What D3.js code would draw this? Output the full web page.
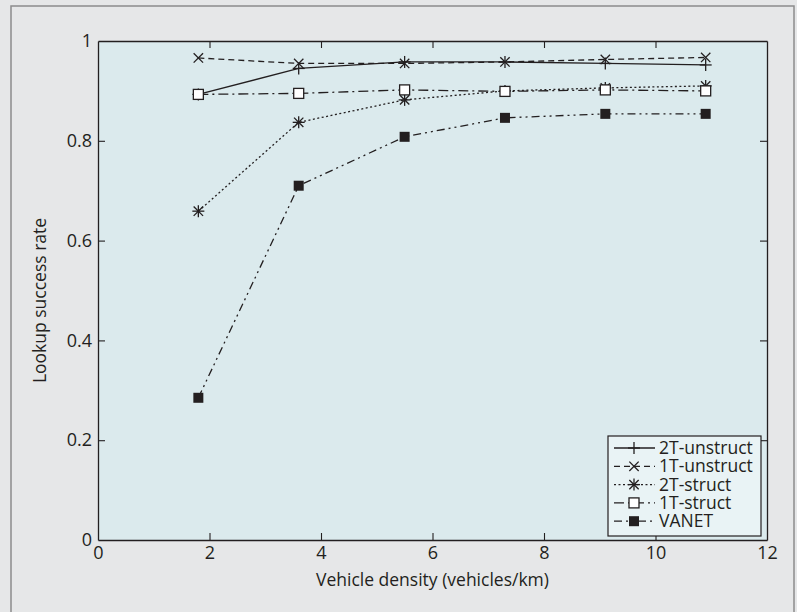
<!DOCTYPE html>
<html>
<head>
<meta charset="utf-8">
<script src="https://cdn.jsdelivr.net/npm/d3@7"></script>
<style>
html,body{margin:0;padding:0;background:#e6e7e8;}
svg{display:block;}
</style>
</head>
<body>
<svg id="chart" width="797" height="612"></svg>
<script>
const xValues = [1.8, 3.6, 5.5, 7.3, 9.1, 10.9];
const seriesNames = ["2T-unstruct", "1T-unstruct", "2T-struct", "1T-struct", "VANET"];
const s2TUnstruct = [0.893, 0.945, 0.958, 0.958, 0.955, 0.952];
const s1TUnstruct = [0.966, 0.955, 0.955, 0.958, 0.963, 0.967];
const s2TStruct   = [0.659, 0.837, 0.882, 0.900, 0.906, 0.910];
const s1TStruct   = [0.893, 0.895, 0.902, 0.899, 0.902, 0.900];
const sVANET      = [0.285, 0.710, 0.808, 0.846, 0.854, 0.854];
const xTicks = [0, 2, 4, 6, 8, 10, 12];
const yTicks = [0, 0.2, 0.4, 0.6, 0.8, 1];
const xLabel = "Vehicle density (vehicles/km)";
const yLabel = "Lookup success rate";

const ink = "#231f20";
const svg = d3.select("#chart");
const W = 797, H = 612;
const m = {left: 98, top: 41, right: 767, bottom: 540};

// outer frame
svg.append("rect").attr("x", 0).attr("y", 0).attr("width", W).attr("height", H).attr("fill", "#e6e7e8");
svg.append("rect").attr("x", 11).attr("y", 6).attr("width", 783).attr("height", 620)
  .attr("fill", "none").attr("stroke", "#8c8c8c").attr("stroke-width", 1.5);

const x = d3.scaleLinear().domain([0, 12]).range([m.left, m.right]);
const y = d3.scaleLinear().domain([0, 1]).range([m.bottom, m.top]);

svg.append("rect").attr("x", m.left).attr("y", m.top)
  .attr("width", m.right - m.left).attr("height", m.bottom - m.top)
  .attr("fill", "#dbeaed");

const fmt = d => d3.format("~g")(d);
const fontFam = "'Open Sans', 'Noto Sans', sans-serif";

function styleAxis(g, labels) {
  g.select(".domain").attr("stroke", ink).attr("stroke-width", 1.3);
  g.selectAll(".tick line").attr("stroke", ink).attr("stroke-width", 1.1);
  g.selectAll(".tick text").attr("fill", ink).style("font-family", fontFam).style("font-size", "18px");
  if (!labels) g.selectAll(".tick text").remove();
}

const gx = svg.append("g").attr("transform", `translate(0,${m.bottom})`)
  .call(d3.axisBottom(x).tickValues(xTicks).tickFormat(fmt).tickSizeInner(-7).tickSizeOuter(0).tickPadding(6));
styleAxis(gx, true);
const gxt = svg.append("g").attr("transform", `translate(0,${m.top})`)
  .call(d3.axisTop(x).tickValues(xTicks).tickSizeInner(-7).tickSizeOuter(0));
styleAxis(gxt, false);
const gy = svg.append("g").attr("transform", `translate(${m.left},0)`)
  .call(d3.axisLeft(y).tickValues(yTicks).tickFormat(fmt).tickSizeInner(-7).tickSizeOuter(0).tickPadding(6));
styleAxis(gy, true);
const gyr = svg.append("g").attr("transform", `translate(${m.right},0)`)
  .call(d3.axisRight(y).tickValues(yTicks).tickSizeInner(-7).tickSizeOuter(0));
styleAxis(gyr, false);
// remove ticks that coincide with plot corners
[gx, gxt].forEach(g => g.selectAll(".tick").filter(d => d === 0 || d === 12).select("line").remove());
[gy, gyr].forEach(g => g.selectAll(".tick").filter(d => d === 0 || d === 1).select("line").remove());

svg.append("text").attr("x", (m.left + m.right) / 2).attr("y", 586)
  .attr("text-anchor", "middle").attr("fill", ink)
  .style("font-family", fontFam).style("font-size", "17.5px").text(xLabel);
svg.append("text").attr("transform", `translate(46,${(m.top + m.bottom) / 2 + 10}) rotate(-90)`)
  .attr("text-anchor", "middle").attr("fill", ink)
  .style("font-family", fontFam).style("font-size", "17.5px").text(yLabel);

const series = [
  {name: seriesNames[0], values: s2TUnstruct, dash: null, marker: "plus"},
  {name: seriesNames[1], values: s1TUnstruct, dash: "6,4", marker: "cross"},
  {name: seriesNames[2], values: s2TStruct, dash: "2,2.5", marker: "star"},
  {name: seriesNames[3], values: s1TStruct, dash: "10,4,2,4", marker: "square"},
  {name: seriesNames[4], values: sVANET, dash: "8,4,2,4,2,4", marker: "fsquare"}
];

function drawMarker(g, type, cx, cy) {
  const s = 6;
  const a = g.append("g").attr("transform", `translate(${cx},${cy})`)
    .attr("stroke", ink).attr("stroke-width", 1.3).attr("fill", "none");
  if (type === "plus" || type === "star") {
    a.append("line").attr("x1", -s).attr("x2", s).attr("y1", 0).attr("y2", 0);
    a.append("line").attr("x1", 0).attr("x2", 0).attr("y1", -s).attr("y2", s);
  }
  if (type === "cross" || type === "star") {
    const k = s * 0.78;
    a.append("line").attr("x1", -k).attr("x2", k).attr("y1", -k).attr("y2", k);
    a.append("line").attr("x1", -k).attr("x2", k).attr("y1", k).attr("y2", -k);
  }
  if (type === "square") {
    a.append("rect").attr("x", -5).attr("y", -5).attr("width", 10).attr("height", 10).attr("fill", "#ffffff");
  }
  if (type === "fsquare") {
    a.append("rect").attr("x", -5).attr("y", -5).attr("width", 10).attr("height", 10).attr("fill", ink).attr("stroke", "none");
  }
}

const line = d3.line().x((d, i) => x(xValues[i])).y(d => y(d));
series.forEach(s => {
  svg.append("path").datum(s.values).attr("d", line)
    .attr("fill", "none").attr("stroke", ink).attr("stroke-width", 1.3)
    .attr("stroke-dasharray", s.dash);
});
series.forEach(s => {
  const g = svg.append("g");
  s.values.forEach((v, i) => drawMarker(g, s.marker, x(xValues[i]), y(v)));
});

// legend
const lg = svg.append("g");
lg.append("rect").attr("x", 608).attr("y", 436).attr("width", 153).attr("height", 100)
  .attr("fill", "#e9f3f5").attr("stroke", ink).attr("stroke-width", 1.2);
series.forEach((s, i) => {
  const yy = 448 + i * 18.3;
  lg.append("line").attr("x1", 614).attr("x2", 655).attr("y1", yy).attr("y2", yy)
    .attr("stroke", ink).attr("stroke-width", 1.3).attr("stroke-dasharray", s.dash);
  drawMarker(lg, s.marker, 634, yy);
  lg.append("text").attr("x", 659).attr("y", yy + 6).attr("fill", ink)
    .style("font-family", fontFam).style("font-size", "17.5px").text(s.name);
});
</script>
</body>
</html>
